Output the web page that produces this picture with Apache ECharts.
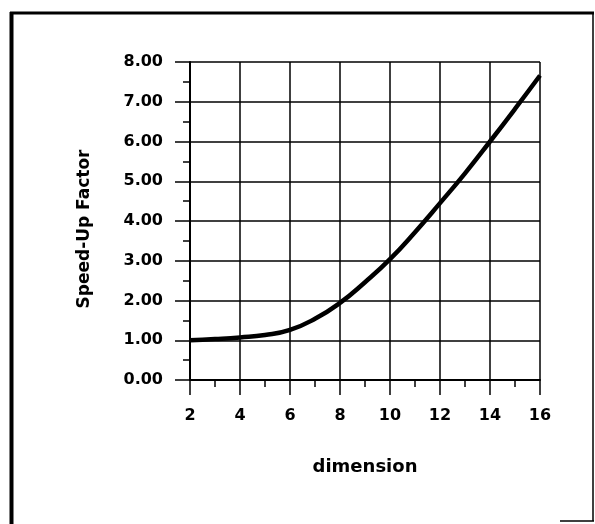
<!DOCTYPE html>
<html>
<head>
<meta charset="utf-8">
<script src="https://cdn.jsdelivr.net/npm/echarts@6/dist/echarts.min.js"></script>
<style>
html,body{margin:0;padding:0;background:#fff;}
#chart{width:595px;height:524px;}
</style>
</head>
<body>
<div id="chart"></div>
<script>
var dimensions = [2, 3, 4, 5, 6, 7, 8, 9, 10, 11, 12, 13, 14, 15, 16];
var speedUp = [1.00, 1.03, 1.07, 1.13, 1.26, 1.54, 1.94, 2.46, 3.04, 3.72, 4.45, 5.20, 6.00, 6.82, 7.66];
var xTicks = [2, 4, 6, 8, 10, 12, 14, 16];
var yTicks = [0, 1, 2, 3, 4, 5, 6, 7, 8];

var chart = echarts.init(document.getElementById('chart'), null, {renderer: 'canvas'});
var font = 'DejaVu Sans';
var option = {
  backgroundColor: '#fff',
  animation: false,
  grid: {left: 190, right: 55, top: 62, bottom: 144},
  xAxis: {
    type: 'value', min: 2, max: 16, interval: 2,
    name: 'dimension', nameLocation: 'middle', nameGap: 78,
    nameTextStyle: {fontFamily: font, fontWeight: 'bold', fontSize: 18, color: '#000'},
    axisLine: {show: true, lineStyle: {color: '#000', width: 2}},
    axisTick: {show: true, inside: false, length: 15, lineStyle: {color: '#000', width: 1.5}},
    minorTick: {show: true, splitNumber: 2, length: 7, lineStyle: {color: '#000', width: 1.5}},
    splitLine: {show: true, lineStyle: {color: '#000', width: 1.5}},
    axisLabel: {margin: 28, fontFamily: font, fontWeight: 'bold', fontSize: 16, color: '#000',
      formatter: function (v) { return xTicks.indexOf(v) >= 0 ? String(v) : ''; }}
  },
  yAxis: {
    type: 'value', min: 0, max: 8, interval: 1,
    name: 'Speed-Up Factor', nameLocation: 'middle', nameGap: 97, nameRotate: 90,
    nameTextStyle: {fontFamily: font, fontWeight: 'bold', fontSize: 17, color: '#000', padding: [0, 16, 0, 0]},
    axisLine: {show: true, lineStyle: {color: '#000', width: 2}},
    axisTick: {show: true, inside: false, length: 15, lineStyle: {color: '#000', width: 1.5}},
    minorTick: {show: true, splitNumber: 2, length: 7, lineStyle: {color: '#000', width: 1.5}},
    splitLine: {show: true, lineStyle: {color: '#000', width: 1.5}},
    axisLabel: {margin: 27, fontFamily: font, fontWeight: 'bold', fontSize: 16, color: '#000',
      formatter: function (v) { return yTicks.indexOf(v) >= 0 ? v.toFixed(2) : ''; }}
  },
  series: [{
    type: 'line',
    data: dimensions.map(function (d, i) { return [d, speedUp[i]]; }),
    smooth: 0.5,
    symbol: 'none',
    lineStyle: {color: '#000', width: 4.5},
    z: 5
  }],
  graphic: [
    {type: 'line', shape: {x1: 11.5, y1: 12, x2: 11.5, y2: 524}, style: {stroke: '#000', lineWidth: 4}},
    {type: 'line', shape: {x1: 10, y1: 13, x2: 594, y2: 13}, style: {stroke: '#000', lineWidth: 3}},
    {type: 'line', shape: {x1: 593, y1: 12, x2: 593, y2: 521}, style: {stroke: '#000', lineWidth: 1.5}},
    {type: 'line', shape: {x1: 560, y1: 521, x2: 594, y2: 521}, style: {stroke: '#000', lineWidth: 1.5}}
  ]
};
chart.setOption(option);
</script>
</body>
</html>
